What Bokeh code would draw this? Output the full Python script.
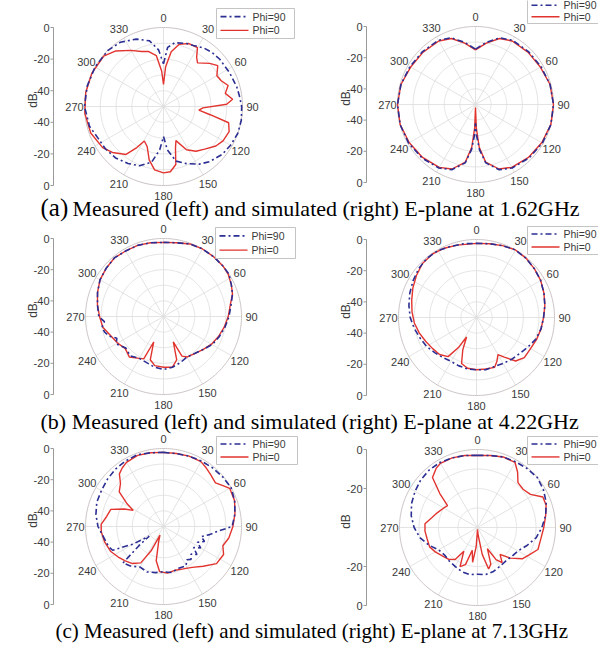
import numpy as np
from bokeh.plotting import figure
from bokeh.models import Range1d
from bokeh.embed import file_html
from bokeh.resources import INLINE
from bokeh.core.properties import value

# ---------------- data (angle in degrees, gain in dB) ----------------
ANGLE_TICKS = [0, 30, 60, 90, 120, 150, 180, 210, 240, 270, 300, 330]
ANGLE_LABELS = [str(a) for a in ANGLE_TICKS]
SERIES_NAMES = ["Phi=90", "Phi=0"]

# (a) 1.62 GHz measured
A_L_ANG_90 = [0, 4, 10, 20, 26, 35, 42, 50, 63, 75, 82, 90, 100, 110, 120, 129, 140, 148, 158, 167,
              175, 180, 185, 192, 202, 212, 223, 234, 244, 255, 270, 285, 300, 315, 326, 338, 348, 355]
A_L_DB_90 = [-23, -12.5, -9, -7.5, -7, -5, -4, -3.5, -3, -2, -1.5, -0.5, 0, 0, -1, -2, -4.5, -7, -11, -14.5,
             -22.5, -31, -22.5, -14, -9.5, -7.5, -5.5, -4.5, -4, -1.5, 0, 0, 0, 0, -1, -4, -7.5, -14]
A_L_ANG_0 = [0, 3, 8, 14, 22, 30, 34, 38, 47, 53, 60, 66, 72, 78, 84, 88, 92, 96, 100, 104,
             111, 120, 127, 136, 144, 152, 160, 164, 168, 174, 180, 188, 195, 202, 209, 213, 218, 228, 236, 250,
             265, 280, 295, 310, 319, 330, 338, 345, 352, 357]
A_L_DB_0 = [-36, -25, -15, -9.5, -7, -7, -12.5, -15, -10, -7, -11, -10, -7, -10, -6, -10, -25, -27.5, -20, -7.5,
            -5.5, -6.5, -8.5, -12.5, -15, -19, -27, -22.5, -12.5, -8.5, -8, -9.5, -15, -22.5, -25, -19, -11.5, -6.5, -3.5, -1,
            0, 0, 0, -0.5, -3.5, -9, -12.5, -14, -17.5, -27.5]

# (a) 1.62 GHz simulated
A_R_ANG = [0, 10, 20, 30, 45, 60, 75, 90, 105, 120, 135, 150, 160, 170, 175, 178, 180, 182, 185, 190,
           200, 210, 225, 240, 255, 270, 285, 300, 315, 330, 340, 350]
A_R_DB_90 = [-14.5, -9.5, -4.5, -2.5, -2, -1.5, -0.5, 0, 0, -0.5, -1.5, -3, -5.5, -12, -21, -30, -38, -30, -21, -12,
             -5.5, -3, -1.5, -0.5, 0, 0, -0.5, -1.5, -2, -2.5, -4.5, -9.5]
A_R_DB_0 = [-15, -10, -5, -3, -2.5, -2, -0.5, 0, 0, -1, -2, -3.5, -6, -12.5, -22.5, -35, -48, -35, -22.5, -12.5,
            -6, -3.5, -2, -1, 0, 0, -0.5, -2, -2.5, -3, -5, -10]

# (b) 4.22 GHz measured
B_L_ANG_90 = [0, 10, 20, 30, 40, 50, 57, 65, 72, 80, 90, 100, 110, 120, 130, 140, 150, 160, 170, 180,
              190, 200, 210, 220, 230, 240, 245, 250, 255, 260, 265, 270, 280, 290, 300, 310, 320, 330, 340, 350]
B_L_DB_90 = [-2.5, -2, -0.5, 0, 0, 0, 0, -2, -3.5, -6, -8, -10, -12, -14, -17, -19, -20, -18.5, -17, -16,
             -17, -18.5, -19, -17, -18.5, -15, -17, -13, -11, -10, -12, -8.5, -7, -5, -3, -2, -1, -1.5, -1.5, -2]
B_L_ANG_0 = [0, 10, 20, 30, 40, 50, 57, 65, 72, 80, 90, 100, 110, 120, 130, 140, 150, 155, 159, 163,
             170, 180, 190, 197, 201, 205, 210, 220, 230, 240, 250, 260, 270, 280, 290, 300, 310, 320, 330, 340, 350]
B_L_DB_0 = [-2.5, -2, -0.5, 0, 0, 0, -0.5, -2, -3.5, -6.5, -8.5, -10.5, -12.5, -14.5, -17, -19, -20, -22, -32.5, -21,
            -17, -17.5, -18, -21, -32.5, -20, -19, -16, -18, -16, -14, -10.5, -9, -7, -5, -3, -2, -1, -1.5, -1.5, -2]

# (b) 4.22 GHz simulated
B_R_ANG_90 = list(range(0, 360, 10))
B_R_DB_90 = [-2.5, -2, -1, 0, -0.5, -1.5, -2.5, -4, -5.5, -7, -8, -9.5, -12, -14, -15, -16, -16.5, -16, -16.5, -16.5,
             -17, -17.5, -16.5, -15, -13, -11.5, -9.5, -7.5, -6, -4.5, -3, -1.5, -0.5, -0.5, -1.5, -2]
B_R_ANG_0 = [0, 10, 20, 30, 40, 50, 60, 70, 80, 90, 100, 110, 120, 130, 138, 145, 150, 155, 160, 170,
             180, 190, 198, 203, 207, 211, 216, 225, 235, 245, 255, 265, 275, 285, 295, 305, 315, 325, 335, 345]
B_R_DB_0 = [-2.5, -2, -1, 0, -0.5, -1.5, -2.5, -4, -5.5, -7, -8, -9, -10, -10, -12.5, -19, -22.5, -19, -16, -16.5,
            -16.5, -17, -19, -27.5, -36, -27.5, -19, -16.5, -15.5, -14, -12, -10, -8.5, -7, -5, -3, -1, -0.5, -1, -2]

# (c) 7.13 GHz measured
C_L_ANG_90 = [0, 10, 20, 30, 40, 50, 60, 70, 80, 90, 95, 100, 105, 110, 115, 120, 125, 130, 135, 140,
              145, 150, 160, 170, 180, 190, 200, 210, 220, 228, 232, 236, 240, 245, 250, 260, 270, 280, 290, 300,
              310, 320, 330, 340, 350]
C_L_DB_90 = [-2.5, -2.5, -2, -1.5, -1, -0.5, 0, -1.5, -3.5, -6, -15, -20, -25, -22, -26, -22.5, -26.5, -22, -25, -22.5,
             -24, -21, -21.5, -20, -21, -20, -19, -20, -17, -15, -30, -39, -27.5, -14, -12.5, -11, -8, -6, -4.5, -4,
             -3, -2, -1.5, -1, -2]
C_L_ANG_0 = [0, 10, 20, 30, 36, 42, 50, 55, 60, 70, 80, 90, 100, 108, 115, 125, 135, 145, 155, 165,
             175, 185, 192, 198, 202, 207, 212, 220, 228, 236, 245, 255, 265, 272, 280, 288, 294, 298, 302, 308,
             315, 320, 325, 330, 340, 350]
C_L_DB_0 = [-2.5, -2.5, -2, -2, -3.5, -5, -6.5, -4, -1, -1.5, -3.5, -5.5, -7.5, -10, -7.5, -8.5, -14, -18, -20, -21,
            -20, -21, -27.5, -40, -44, -32.5, -22.5, -19, -17, -15, -12.5, -11, -10, -10, -13, -14.5, -22.5, -28, -22.5, -14,
            -11, -6, -4, -2.5, -1.5, -2]

# (c) 7.13 GHz simulated
C_R_ANG_90 = list(range(0, 360, 10))
C_R_DB_90 = [-3, -2.5, -1.5, -1, -0.5, 0, -1, -2.5, -4.5, -7, -9.5, -13, -16, -17, -17.5, -17, -16, -15.5, -16, -15.5,
             -16, -17, -17.5, -18, -17, -13.5, -10, -7.5, -5.5, -4, -3, -2, -1.5, -1.5, -2, -2.5]
C_R_ANG_0 = [0, 10, 20, 30, 36, 42, 50, 58, 65, 72, 80, 90, 100, 110, 118, 125, 133, 140, 145, 150,
             155, 160, 165, 170, 175, 180, 184, 188, 193, 198, 204, 210, 215, 222, 230, 240, 248, 258, 266, 274,
             282, 290, 300, 306, 312, 318, 325, 330, 340, 350]
C_R_DB_0 = [-3, -2.5, -1.5, -1.5, -5, -9, -9.5, -8, -3, -3, -4.5, -6, -7, -7, -10, -12, -17, -22, -18, -21,
            -28, -20, -18, -26, -36, -39, -30, -22, -28, -20, -18, -26, -20, -18, -17, -15, -13.5, -13.5, -13, -13,
            -16, -18, -20, -21, -14, -5.5, -3, -2, -2, -2.5]

DB_TICKS_50 = [0, -20, -40]
DB_TICKS_40 = [0, -20]
RINGS_50 = [-40, -30, -20, -10]
RINGS_40 = [-30, -20, -10]

CAPTIONS = ["Measured (left) and simulated (right) E-plane at 1.62GHz",
            "Measured (left) and simulated (right) E-plane at 4.22GHz",
            "Measured (left) and simulated (right) E-plane at 7.13GHz"]
CAPTION_TAGS = ["(a)", "(b)", "(c)"]

# ---------------- layout (pixel space of the picture) ----------------
PANELS = [
    dict(cx=163, cy=106, R=79, rmin=-50, ticks=DB_TICKS_50, rings=RINGS_50, ax=53, leg=(216, 8, 294, 38),
         s90=(A_L_ANG_90, A_L_DB_90), s0=(A_L_ANG_0, A_L_DB_0)),
    dict(cx=475, cy=104, R=78, rmin=-50, ticks=DB_TICKS_50, rings=RINGS_50, ax=366, leg=(527, -2, 610, 23),
         s90=(A_R_ANG, A_R_DB_90), s0=(A_R_ANG, A_R_DB_0)),
    dict(cx=163, cy=316, R=78, rmin=-50, ticks=DB_TICKS_50, rings=RINGS_50, ax=53, leg=(215, 227, 295, 258),
         s90=(B_L_ANG_90, B_L_DB_90), s0=(B_L_ANG_0, B_L_DB_0)),
    dict(cx=476, cy=317, R=78, rmin=-50, ticks=DB_TICKS_50, rings=RINGS_50, ax=366, leg=(527, 226, 610, 254),
         s90=(B_R_ANG_90, B_R_DB_90), s0=(B_R_ANG_0, B_R_DB_0)),
    dict(cx=163, cy=526, R=78, rmin=-50, ticks=DB_TICKS_50, rings=RINGS_50, ax=53, leg=(216, 436, 297, 464),
         s90=(C_L_ANG_90, C_L_DB_90), s0=(C_L_ANG_0, C_L_DB_0)),
    dict(cx=477, cy=527, R=78, rmin=-40, ticks=DB_TICKS_40, rings=RINGS_40, ax=366, leg=(527, 436, 610, 464),
         s90=(C_R_ANG_90, C_R_DB_90), s0=(C_R_ANG_0, C_R_DB_0)),
]
CAPTION_Y = [207, 421, 630]

BLUE = "#2b2e92"
RED = "#e2342f"
GRID = "#dcdcdc"
RIM = "#cbc3c3"
TXT = "#3a3a3a"
DASHDOT = "6 3 2 3"
SANS = value("Liberation Sans")
SERIF = value("Liberation Serif")

W, H = 598, 646
p = figure(width=W, height=H, x_range=Range1d(0, W), y_range=Range1d(H, 0),
           output_backend="svg", toolbar_location=None, min_border=0,
           min_border_left=0, min_border_right=0, min_border_top=0, min_border_bottom=0)
p.axis.visible = False
p.grid.visible = False
p.outline_line_color = None
p.background_fill_color = "white"


def to_xy(pn, ang, db):
    ang = np.asarray(list(ang) + [ang[0] + 360], dtype=float)
    db = np.asarray(list(db) + [db[0]], dtype=float)
    r = np.clip((db - pn["rmin"]) / (0.0 - pn["rmin"]), 0.0, None)
    t = np.radians(ang)
    return pn["cx"] + pn["R"] * r * np.sin(t), pn["cy"] - pn["R"] * r * np.cos(t)


t_ring = np.radians(np.linspace(0, 360, 241))
for pn in PANELS:
    cx, cy, R, rmin = pn["cx"], pn["cy"], pn["R"], pn["rmin"]
    # rings
    rx, ry = [], []
    for d in pn["rings"]:
        rr = R * (d - rmin) / (0 - rmin)
        rx.append(cx + rr * np.sin(t_ring))
        ry.append(cy - rr * np.cos(t_ring))
    p.multi_line(rx, ry, line_color=GRID, line_width=0.8)
    # spokes
    ta = np.radians(ANGLE_TICKS)
    p.segment(x0=[cx] * len(ta), y0=[cy] * len(ta), x1=cx + R * np.sin(ta), y1=cy - R * np.cos(ta),
              line_color=GRID, line_width=0.8)
    p.line(cx + R * np.sin(t_ring), cy - R * np.cos(t_ring), line_color=RIM, line_width=1.0)
    # angle labels
    lr = R + 10
    p.text(x=cx + lr * np.sin(ta), y=cy - lr * np.cos(ta), text=ANGLE_LABELS,
           text_font=SANS, text_font_size="11px", text_color=TXT,
           text_align="center", text_baseline="middle")
    # curves
    x0, y0 = to_xy(pn, *pn["s0"])
    p.line(x0, y0, line_color=RED, line_width=1.4)
    x9, y9 = to_xy(pn, *pn["s90"])
    p.line(x9, y9, line_color=BLUE, line_width=1.6, line_dash=DASHDOT)
    # dB axis
    ax = pn["ax"]
    p.segment(x0=[ax], y0=[cy - R], x1=[ax], y1=[cy + R], line_color="#9a9a9a", line_width=1)
    tick_r = [R * (d - rmin) / (0 - rmin) for d in pn["ticks"]]
    ty = [cy - r for r in tick_r] + [cy + r for r in tick_r]
    tl = [str(d) for d in pn["ticks"]] * 2
    p.segment(x0=[ax - 3] * len(ty), y0=ty, x1=[ax] * len(ty), y1=ty, line_color="#9a9a9a", line_width=1)
    p.text(x=[ax - 4] * len(ty), y=ty, text=tl, text_font=SANS, text_font_size="11px",
           text_color=TXT, text_align="right", text_baseline="middle")
    p.text(x=[ax - 21], y=[cy - 6], text=["dB"], angle=np.pi / 2, text_font=SANS,
           text_font_size="12px", text_color=TXT, text_align="center", text_baseline="middle")
    # legend
    L, T, Rr, B = pn["leg"]
    p.quad(left=[L], right=[Rr], top=[T], bottom=[B], fill_color="white", line_color="#b5b5b5", line_width=0.8)
    ry1 = T + 0.27 * (B - T)
    ry2 = T + 0.73 * (B - T)
    p.line([L + 4, L + 32], [ry1, ry1], line_color=BLUE, line_width=1.6, line_dash=DASHDOT)
    p.line([L + 4, L + 32], [ry2, ry2], line_color=RED, line_width=1.4)
    p.text(x=[L + 36, L + 36], y=[ry1, ry2], text=SERIES_NAMES, text_font=SANS, text_font_size="10.5px",
           text_color=TXT, text_align="left", text_baseline="middle")

# captions
p.text(x=[40], y=[CAPTION_Y[0]], text=[CAPTION_TAGS[0]], text_font=SERIF, text_font_size="25px",
       text_color="black", text_align="left", text_baseline="middle")
p.text(x=[72], y=[CAPTION_Y[0] + 1], text=[CAPTIONS[0]], text_font=SERIF, text_font_size="22px",
       text_color="black", text_align="left", text_baseline="middle")
p.text(x=[40], y=[CAPTION_Y[1]], text=[CAPTION_TAGS[1] + " " + CAPTIONS[1]], text_font=SERIF,
       text_font_size="22px", text_color="black", text_align="left", text_baseline="middle")
p.text(x=[55], y=[CAPTION_Y[2]], text=[CAPTION_TAGS[2] + " " + CAPTIONS[2]], text_font=SERIF,
       text_font_size="21px", text_color="black", text_align="left", text_baseline="middle")

open("out.html", "w").write(file_html(p, INLINE))
